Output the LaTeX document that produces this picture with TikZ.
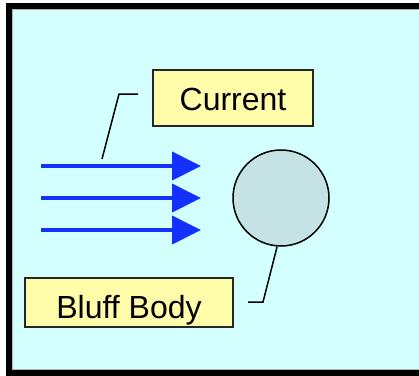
\documentclass[tikz,border=0pt]{standalone}
\usepackage{fontspec}
\setmainfont{Liberation Sans}
\usetikzlibrary{arrows.meta}
\definecolor{bgcyan}{HTML}{D4FFFF}
\definecolor{boxyellow}{HTML}{FFFCAA}
\definecolor{bodyfill}{HTML}{C5E3E5}
\definecolor{flowblue}{HTML}{1430FF}
\tikzset{
  label box/.style={draw=black!85, line width=1.5pt, fill=boxyellow, inner sep=0pt, anchor=center},
  label text/.style={font=\fontsize{32}{34}\selectfont, inner sep=0pt},
  flow/.style={draw=flowblue, line width=4pt, -{Triangle[length=29pt,width=28pt]}},
  leader/.style={draw=black, line width=1.5pt}
}
\begin{document}
\begin{tikzpicture}[x=1pt,y=-1pt]
\useasboundingbox (0,0) rectangle (419,375);
\clip (0,0) rectangle (419,375);
\fill[white] (0,0) rectangle (419,375);
\draw[line width=6pt, fill=bgcyan] (9,6) rectangle (430,372.5);
\draw[gray!60, line width=0.6pt] (12.5,9.5) rectangle (430,369);
% label boxes
\node[label box, minimum width=160pt, minimum height=56pt] (current) at (233,98) {};
\node[label text, anchor=base] (currenttext) at (233,110) {Current};
\node[label box, minimum width=208pt, minimum height=49pt] (bluff) at (129,302.5) {};
\node[label text, anchor=base] (blufftext) at (129,318) {Bluff Body};
% body
\node[circle, draw=black, line width=1.5pt, fill=bodyfill, minimum size=96pt, inner sep=0pt] (body) at (281,198) {};
% flow arrows
\coordinate (a1s) at (41,166); \coordinate (a1e) at (201,166);
\coordinate (a2s) at (41,198); \coordinate (a2e) at (201,198);
\coordinate (a3s) at (41,230); \coordinate (a3e) at (201,230);
\draw[flow] (a1s) -- (a1e);
\draw[flow] (a2s) -- (a2e);
\draw[flow] (a3s) -- (a3e);
% leaders
\coordinate (cl1) at (102,159);
\coordinate (cl2) at (119,94);
\coordinate (cl3) at (138,94);
\draw[leader] (cl1) -- (cl2) -- (cl3);
\coordinate (bl1) at (277,247);
\coordinate (bl2) at (263,302);
\coordinate (bl3) at (248,302);
\draw[leader] (bl1) -- (bl2) -- (bl3);
\end{tikzpicture}
\end{document}
